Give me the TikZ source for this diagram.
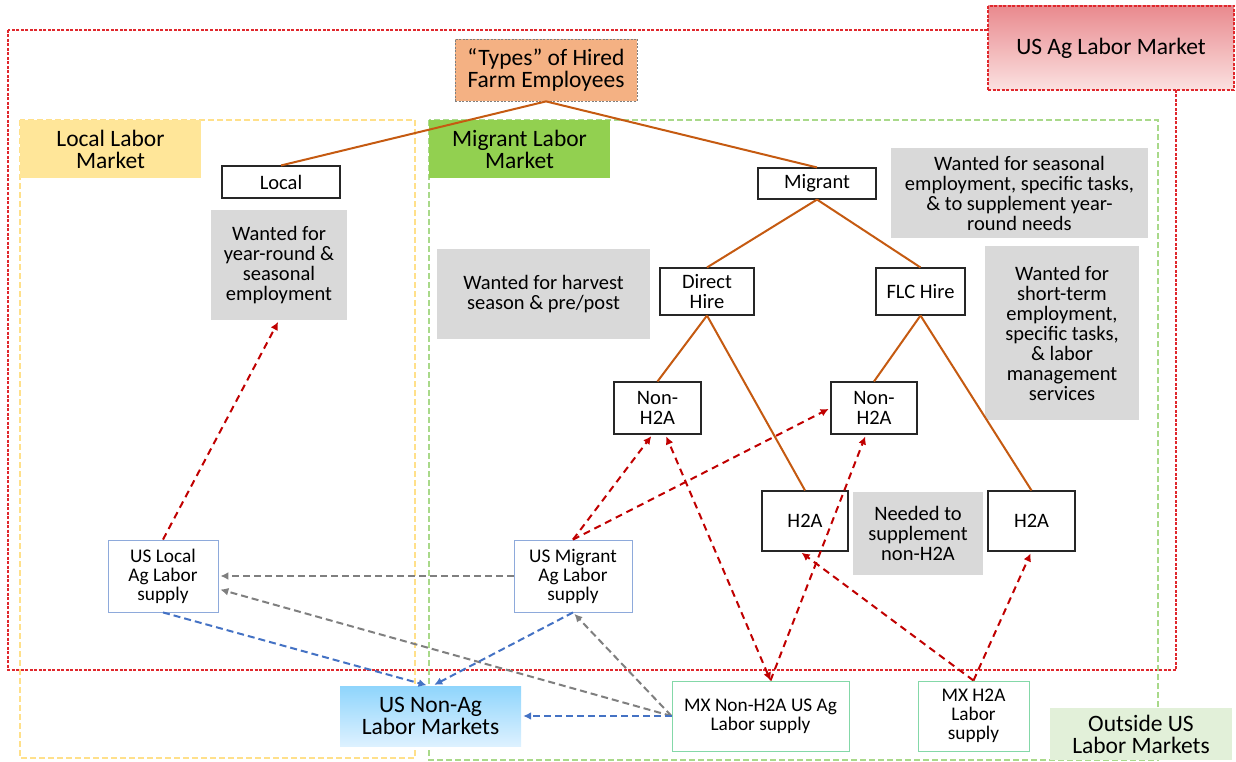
\documentclass[tikz,border=0pt]{standalone}
\usepackage{fontspec}
\setmainfont{Carlito}
\usetikzlibrary{arrows.meta}
\definecolor{agred}{HTML}{E0282D}
\definecolor{agtop}{HTML}{E98A8E}
\definecolor{agbot}{HTML}{FBE1E1}
\definecolor{locyellow}{HTML}{FFE699}
\definecolor{locline}{HTML}{FFE08A}
\definecolor{miggreen}{HTML}{92D050}
\definecolor{migline}{HTML}{A9D98A}
\definecolor{outgreen}{HTML}{E2F0D9}
\definecolor{typesfill}{HTML}{F4B183}
\definecolor{notegray}{HTML}{D9D9D9}
\definecolor{treeorange}{HTML}{C55A11}
\definecolor{dealred}{HTML}{C00000}
\definecolor{arrgray}{HTML}{7F7F7F}
\definecolor{arrblue}{HTML}{4472C4}
\definecolor{supblue}{HTML}{8EAADB}
\definecolor{mxgreen}{HTML}{84D8A8}
\definecolor{nonagtop}{HTML}{8FD5FC}
\definecolor{nonagbot}{HTML}{DDF1FF}
\newcommand\tightlines{\lineskiplimit=-20pt\relax}
\begin{document}
\begin{tikzpicture}[x=1pt, y=-1pt, >={Latex[length=8pt,width=8pt]},
  every node/.style={align=center, inner sep=0pt},
  bigtxt/.style={font=\fontsize{23.5}{22}\selectfont\tightlines},
  midtxt/.style={font=\fontsize{20.5}{20}\selectfont\tightlines},
  smalltxt/.style={font=\fontsize{19.3}{19}\selectfont\tightlines},
  mktlabel/.style={bigtxt, minimum width=181pt, minimum height=58pt},
  typebox/.style={midtxt, draw=black!85, fill=white, line width=1.1pt},
  note/.style={midtxt, fill=notegray},
  supply/.style={smalltxt, draw=supblue, fill=white, line width=0.9pt},
  mxbox/.style={smalltxt, draw=mxgreen, fill=white, line width=1pt},
  tree/.style={treeorange, line width=2pt},
  demand/.style={->, dealred, line width=2pt, dash pattern=on 7pt off 5pt, shorten >=2pt},
  crossflow/.style={->, arrgray, line width=2pt, dash pattern=on 7pt off 4pt, shorten >=2pt},
  exitflow/.style={->, arrblue, line width=2pt, dash pattern=on 7pt off 4pt, shorten >=2pt}]
\useasboundingbox (0,0) rectangle (1236,762);

% market frames
\draw[agred, line width=1.4pt, dash pattern=on 3pt off 1.5pt] (8,30) rectangle (1176,670);
\draw[locline, line width=1.3pt, dash pattern=on 6pt off 3pt] (20,120) rectangle (415,758);
\draw[migline, line width=1.3pt, dash pattern=on 6pt off 3pt] (429,120) rectangle (1158,760);

% market labels
\node[bigtxt, minimum width=246pt, minimum height=84pt, top color=agtop, bottom color=agbot,
  draw=agred, line width=1.4pt, dash pattern=on 3pt off 1.5pt] (agmkt) at (1111,48) {US Ag Labor Market};
\node[mktlabel, fill=locyellow] (locmkt) at (110.5,149) {Local Labor\\Market};
\node[mktlabel, fill=miggreen] (migmkt) at (519.5,149) {Migrant Labor\\Market};
\node[bigtxt, minimum width=182pt, minimum height=52pt, fill=outgreen] (outmkt) at (1141,734) {Outside US\\Labor Markets};
\node[bigtxt, minimum width=181pt, minimum height=60pt, top color=nonagtop, bottom color=nonagbot] (nonag) at (430.5,716) {US Non-Ag\\Labor Markets};

% types of hired employees
\node[bigtxt, minimum width=182pt, minimum height=62pt, fill=typesfill, draw=arrgray,
  line width=0.8pt, dash pattern=on 2pt off 1.5pt] (types) at (546,70) {“Types” of Hired\\Farm Employees};
\node[typebox, minimum width=118pt, minimum height=32pt] (local) at (281,182) {Local};
\node[typebox, minimum width=118pt, minimum height=31pt] (migrant) at (817,183.5) {Migrant};
\node[typebox, minimum width=94pt, minimum height=47pt] (direct) at (707,291.5) {Direct\\Hire};
\node[typebox, minimum width=89pt, minimum height=47pt] (flc) at (920.5,291.5) {FLC Hire};
\node[typebox, minimum width=87pt, minimum height=52pt] (nonA) at (657.5,408) {Non-\\H2A};
\node[typebox, minimum width=86pt, minimum height=52pt] (nonB) at (874,408) {Non-\\H2A};
\node[typebox, minimum width=86pt, minimum height=60pt] (h2aA) at (805,521) {H2A};
\node[typebox, minimum width=87pt, minimum height=60pt] (h2aB) at (1031.5,521) {H2A};

% notes
\node[note, minimum width=136pt, minimum height=110pt] (wantlocal) at (279,265) {Wanted for\\year-round \&\\seasonal\\employment};
\node[note, minimum width=257pt, minimum height=90pt] (wantmig) at (1019.5,193) {Wanted for seasonal\\employment, specific tasks,\\\& to supplement year-\\round needs};
\node[note, minimum width=213pt, minimum height=90pt] (wantharv) at (543.5,294) {Wanted for harvest\\season \& pre/post};
\node[note, minimum width=154pt, minimum height=174pt] (wantflc) at (1062,333) {Wanted for\\short-term\\employment,\\specific tasks,\\\& labor\\management\\services};
\node[note, minimum width=130pt, minimum height=83pt] (needed) at (918,533.5) {Needed to\\supplement\\non-H2A};

% supply nodes
\node[supply, minimum width=110pt, minimum height=72pt] (uslocal) at (163,576) {US Local\\Ag Labor\\supply};
\node[supply, minimum width=118pt, minimum height=72pt] (usmig) at (573,576) {US Migrant\\Ag Labor\\supply};
\node[mxbox, minimum width=177pt, minimum height=70pt] (mxnon) at (760.5,716) {MX Non-H2A US Ag\\Labor supply};
\node[mxbox, minimum width=111pt, minimum height=70pt] (mxh2a) at (973.5,716) {MX H2A\\Labor\\supply};

% tree
\draw[tree] (types.south) -- (local.north);
\draw[tree] (types.south) -- (migrant.north);
\draw[tree] (migrant.south) -- (direct.north);
\draw[tree] (migrant.south) -- (flc.north);
\draw[tree] (direct.south) -- (nonA.north);
\draw[tree] (direct.south) -- (h2aA.north);
\draw[tree] (flc.south) -- (nonB.north);
\draw[tree] (flc.south) -- (h2aB.north);

% labor supply to demand
\draw[demand] (uslocal.north) -- (wantlocal.south);
\draw[demand] (usmig.north) -- ([xshift=-5pt]nonA.south);
\draw[demand] (usmig.north) -- (nonB.west);
\draw[demand, <->] ([xshift=10pt]mxnon.north) -- ([xshift=8pt]nonA.south);
\draw[demand] ([xshift=10pt]mxnon.north) -- ([xshift=-8pt]nonB.south);
\draw[demand] (mxh2a.north) -- ([xshift=-5pt]h2aA.south);
\draw[demand] (mxh2a.north) -- (h2aB.south);

% moves between supplies
\draw[crossflow] (usmig.west) -- (uslocal.east);
\draw[crossflow] (mxnon.west) -- ([yshift=-13pt]uslocal.east);
\draw[crossflow] (mxnon.west) -- (usmig.south);
\draw[exitflow] (uslocal.south) -- ([xshift=-2pt]nonag.north);
\draw[exitflow] (usmig.south) -- ([xshift=2pt]nonag.north);
\draw[exitflow] (mxnon.west) -- (nonag.east);
\end{tikzpicture}
\end{document}
